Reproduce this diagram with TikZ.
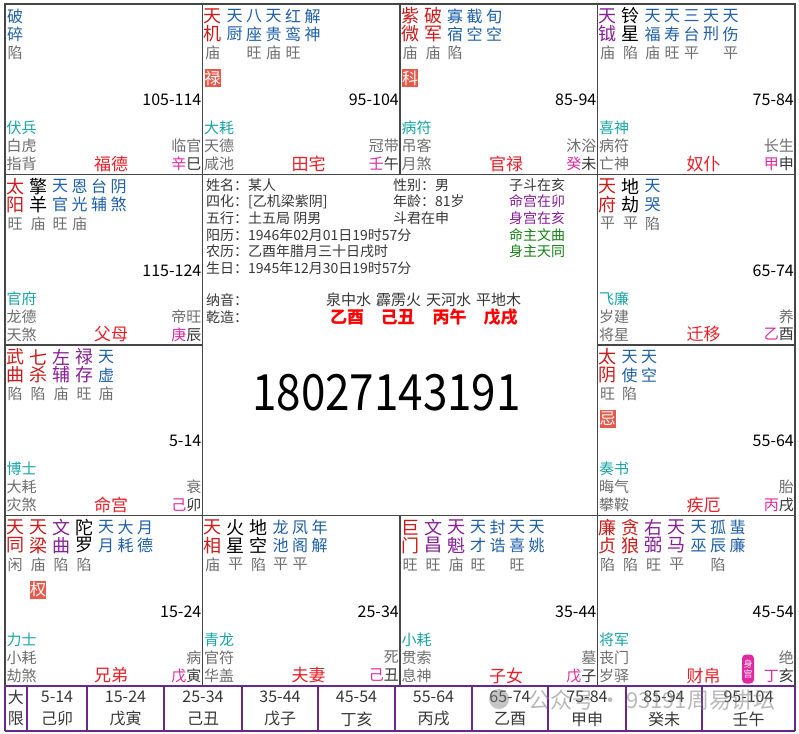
\documentclass[tikz,border=0pt]{standalone}
\usepackage{fontspec}
\usepackage{graphicx}
\setmainfont{Noto Sans CJK SC}
\definecolor{zred}{RGB}{205,25,25}
\definecolor{zblue}{RGB}{30,95,170}
\definecolor{zpurple}{RGB}{135,30,150}
\definecolor{zteal}{RGB}{25,165,165}
\definecolor{zgray}{RGB}{110,110,110}
\definecolor{zdark}{RGB}{55,55,55}
\definecolor{zstem}{RGB}{225,40,160}
\definecolor{zpal}{RGB}{235,30,40}
\definecolor{zhua}{RGB}{230,90,75}
\definecolor{zgreen}{RGB}{20,130,20}
\definecolor{zline}{RGB}{70,70,70}
\definecolor{zband}{RGB}{105,40,140}

\begin{document}
\begin{tikzpicture}[x=1pt,y=-1pt,
    grid/.style={draw=zline,line width=1.1pt},
    band/.style={draw=zband,line width=1.2pt},
    star/.style={inner sep=0pt,font=\fontsize{18}{18}\selectfont},
    mjr/.style={star,text=zred},
    mjp/.style={star,text=zpurple},
    mjk/.style={star,text=black},
    mn/.style={inner sep=0pt,font=\fontsize{16}{16}\selectfont,text=zblue},
    bright/.style={inner sep=0pt,font=\fontsize{15}{15}\selectfont,text=zgray},
    hua/.style={fill=zhua,text=white,inner sep=0pt,minimum width=16pt,minimum height=18pt,font=\fontsize{16}{16}\selectfont},
    god/.style={inner sep=0pt,anchor=west,font=\fontsize{15}{15}\selectfont,text=zteal},
    side/.style={inner sep=0pt,font=\fontsize{15}{15}\selectfont,text=zgray},
    pal/.style={inner sep=0pt,font=\fontsize{17}{17}\selectfont,text=zpal},
    age/.style={inner sep=0pt,anchor=east,font=\fontsize{16}{16}\selectfont,text=black},
    info/.style={inner sep=0pt,anchor=west,font=\fontsize{14}{14}\selectfont,text=zdark},
    limit/.style={inner sep=0pt,font=\fontsize{16}{16}\selectfont,text=zdark}]
\useasboundingbox (0,0) rectangle (799,733);
\fill[white] (0,0) rectangle (799,733);

\draw[grid] (5,4) rectangle (795,686);
\draw[grid] (202.5,4)--(202.5,686);
\draw[grid] (597.5,4)--(597.5,686);
\draw[grid] (400,4)--(400,174.5);
\draw[grid] (400,515.5)--(400,686);
\draw[grid] (5,174.5)--(795,174.5);
\draw[grid] (5,515.5)--(795,515.5);
\draw[grid] (5,345)--(202.5,345);
\draw[grid] (597.5,345)--(795,345);

\begin{scope}[shift={(5,4)}]
    \foreach \s/\x/\a/\b/\r [count=\j] in {mn/10/破/碎/陷}{
        \node[\s] (si-t\j) at (\x,12) {\a};
        \node[\s] (si-b\j) at (\x,30) {\b};
        \node[bright] (si-r\j) at (\x,49) {\r};
    }
\end{scope}
\begin{scope}[shift={(202.5,4)}]
    \foreach \s/\x/\a/\b/\r [count=\j] in {mjr/10/天/机/庙,mn/32/天/厨/{},mn/51.5/八/座/旺,mn/71/天/贵/庙,mn/90.5/红/鸾/旺,mn/110/解/神/{}}{
        \node[\s] (wu-t\j) at (\x,12) {\a};
        \node[\s] (wu-b\j) at (\x,30) {\b};
        \node[bright] (wu-r\j) at (\x,49) {\r};
    }
    \node[hua] (wu-hua) at (10,74) {禄};
\end{scope}
\begin{scope}[shift={(400,4)}]
    \foreach \s/\x/\a/\b/\r [count=\j] in {mjr/10/紫/微/庙,mjr/33/破/军/庙,mn/55/寡/宿/陷,mn/74.5/截/空/{},mn/94/旬/空/{}}{
        \node[\s] (wei-t\j) at (\x,12) {\a};
        \node[\s] (wei-b\j) at (\x,30) {\b};
        \node[bright] (wei-r\j) at (\x,49) {\r};
    }
    \node[hua] (wei-hua) at (10,74) {科};
\end{scope}
\begin{scope}[shift={(597.5,4)}]
    \foreach \s/\x/\a/\b/\r [count=\j] in {mjp/10/天/钺/庙,mjk/33/铃/星/陷,mn/55/天/福/庙,mn/74.5/天/寿/旺,mn/94/三/台/平,mn/113.5/天/刑/{},mn/133/天/伤/平}{
        \node[\s] (shen-t\j) at (\x,12) {\a};
        \node[\s] (shen-b\j) at (\x,30) {\b};
        \node[bright] (shen-r\j) at (\x,49) {\r};
    }
\end{scope}
\begin{scope}[shift={(5,174.5)}]
    \foreach \s/\x/\a/\b/\r [count=\j] in {mjr/10/太/阳/旺,mjk/33/擎/羊/庙,mn/55/天/官/旺,mn/74.5/恩/光/庙,mn/94/台/辅/{},mn/113.5/阴/煞/{}}{
        \node[\s] (chen-t\j) at (\x,12) {\a};
        \node[\s] (chen-b\j) at (\x,30) {\b};
        \node[bright] (chen-r\j) at (\x,49) {\r};
    }
\end{scope}
\begin{scope}[shift={(597.5,174.5)}]
    \foreach \s/\x/\a/\b/\r [count=\j] in {mjr/10/天/府/平,mjk/33/地/劫/平,mn/55/天/哭/陷}{
        \node[\s] (you-t\j) at (\x,12) {\a};
        \node[\s] (you-b\j) at (\x,30) {\b};
        \node[bright] (you-r\j) at (\x,49) {\r};
    }
\end{scope}
\begin{scope}[shift={(5,345)}]
    \foreach \s/\x/\a/\b/\r [count=\j] in {mjr/10/武/曲/陷,mjr/33/七/杀/陷,mjp/56/左/辅/庙,mjp/79/禄/存/旺,mn/101/天/虚/庙}{
        \node[\s] (mao-t\j) at (\x,12) {\a};
        \node[\s] (mao-b\j) at (\x,30) {\b};
        \node[bright] (mao-r\j) at (\x,49) {\r};
    }
\end{scope}
\begin{scope}[shift={(597.5,345)}]
    \foreach \s/\x/\a/\b/\r [count=\j] in {mjr/10/太/阴/旺,mn/32/天/使/陷,mn/51.5/天/空/{}}{
        \node[\s] (xu-t\j) at (\x,12) {\a};
        \node[\s] (xu-b\j) at (\x,30) {\b};
        \node[bright] (xu-r\j) at (\x,49) {\r};
    }
    \node[hua] (xu-hua) at (10,74) {忌};
\end{scope}
\begin{scope}[shift={(5,515.5)}]
    \foreach \s/\x/\a/\b/\r [count=\j] in {mjr/10/天/同/闲,mjr/33/天/梁/庙,mjp/56/文/曲/陷,mjk/79/陀/罗/陷,mn/101/天/月/{},mn/120.5/大/耗/{},mn/140/月/德/{}}{
        \node[\s] (yin-t\j) at (\x,12) {\a};
        \node[\s] (yin-b\j) at (\x,30) {\b};
        \node[bright] (yin-r\j) at (\x,49) {\r};
    }
    \node[hua] (yin-hua) at (33,74) {权};
\end{scope}
\begin{scope}[shift={(202.5,515.5)}]
    \foreach \s/\x/\a/\b/\r [count=\j] in {mjr/10/天/相/庙,mjk/33/火/星/平,mjk/56/地/空/陷,mn/78/龙/池/平,mn/97.5/凤/阁/平,mn/117/年/解/{}}{
        \node[\s] (chou-t\j) at (\x,12) {\a};
        \node[\s] (chou-b\j) at (\x,30) {\b};
        \node[bright] (chou-r\j) at (\x,49) {\r};
    }
\end{scope}
\begin{scope}[shift={(400,515.5)}]
    \foreach \s/\x/\a/\b/\r [count=\j] in {mjr/10/巨/门/旺,mjp/33/文/昌/旺,mjp/56/天/魁/庙,mn/78/天/才/旺,mn/97.5/封/诰/{},mn/117/天/喜/旺,mn/136.5/天/姚/{}}{
        \node[\s] (zi-t\j) at (\x,12) {\a};
        \node[\s] (zi-b\j) at (\x,30) {\b};
        \node[bright] (zi-r\j) at (\x,49) {\r};
    }
\end{scope}
\begin{scope}[shift={(597.5,515.5)}]
    \foreach \s/\x/\a/\b/\r [count=\j] in {mjr/10/廉/贞/陷,mjr/33/贪/狼/陷,mjp/56/右/弼/旺,mjp/79/天/马/平,mn/101/天/巫/{},mn/120.5/孤/辰/陷,mn/140/蜚/廉/{}}{
        \node[\s] (hai-t\j) at (\x,12) {\a};
        \node[\s] (hai-b\j) at (\x,30) {\b};
        \node[bright] (hai-r\j) at (\x,49) {\r};
    }
    \node[fill=zstem,rounded corners=4pt,text=white,inner sep=1pt,minimum width=12pt,minimum height=29pt,align=center,font=\fontsize{9}{10.5}\selectfont] (hai-shen) at (150.5,153.5) {身\\宫};
\end{scope}

\foreach \ox/\oy/\g/\p/\q/\h/\n/\s/\z/\a [count=\i] in {
    5/4/伏兵/白虎/指背/临官/福德/辛/巳/105-114,
    202.5/4/大耗/天德/咸池/冠带/田宅/壬/午/95-104,
    400/4/病符/吊客/月煞/沐浴/官禄/癸/未/85-94,
    597.5/4/喜神/病符/亡神/长生/奴仆/甲/申/75-84,
    5/174.5/官府/龙德/天煞/帝旺/父母/庚/辰/115-124,
    597.5/174.5/飞廉/岁建/将星/养/迁移/乙/酉/65-74,
    5/345/博士/大耗/灾煞/衰/命宫/己/卯/5-14,
    597.5/345/奏书/晦气/攀鞍/胎/疾厄/丙/戌/55-64,
    5/515.5/力士/小耗/劫煞/病/兄弟/戊/寅/15-24,
    202.5/515.5/青龙/官符/华盖/死/夫妻/己/丑/25-34,
    400/515.5/小耗/贯索/息神/墓/子女/戊/子/35-44,
    597.5/515.5/将军/丧门/岁驿/绝/财帛/丁/亥/45-54}{
    \node[age] (age\i) at (\ox+196.5,\oy+96) {\a};
    \node[god] (god\i) at (\ox+1.5,\oy+124) {\g};
    \node[side,anchor=west] (sq\i) at (\ox+1.5,\oy+142) {\p};
    \node[side,anchor=west] (jq\i) at (\ox+1.5,\oy+160) {\q};
    \node[side,anchor=east] (ph\i) at (\ox+196.5,\oy+142) {\h};
    \node[pal] (pal\i) at (\ox+106,\oy+160) {\n};
    \node[side,anchor=east] (gz\i) at (\ox+196.5,\oy+160) {\textcolor{zstem}{\s}\textcolor{zdark}{\z}};
}

\foreach \t [count=\i] in {姓名：某人,四化：[乙机梁紫阴],五行：土五局 阴男,阳历：1946年02月01日19时57分,农历：乙酉年腊月三十日戌时,生日：1945年12月30日19时57分}{
    \node[info] (lf\i) at (206,185+16.6*\i-16.6) {\t};
}
\foreach \t [count=\i] in {性别：男,年龄：81岁,斗君在申}{
    \node[info] (md\i) at (393,185+16.6*\i-16.6) {\t};
}
\foreach \c/\t [count=\i] in {zdark/子斗在亥,zpurple/命宫在卯,zpurple/身宫在亥,zgreen/命主文曲,zgreen/身主天同}{
    \node[info,text=\c] (rt\i) at (509,185+16.6*\i-16.6) {\t};
}
\node[info] (nayin) at (206,300) {纳音：};
\node[info] (qianzao) at (206,317) {乾造：};
\foreach \x/\t [count=\i] in {326/泉中水,376/霹雳火,426/天河水,476/平地木}{
    \node[info,font=\fontsize{15}{15}\selectfont] (ny\i) at (\x,300) {\t};
}
\foreach \x/\t [count=\i] in {347/乙酉,397.5/己丑,449.5/丙午,500.5/戊戌}{
    \node[inner sep=0pt,text=red,font=\fontsize{17}{17}\selectfont\bfseries] (gz-c\i) at (\x,317) {\t};
}
\node[inner sep=0pt,font=\fontsize{50}{50}\selectfont] (phone) at (386.5,393) {\scalebox{0.88}[1]{18027143191}};

\draw[band,line width=2pt] (5,686)--(795,686);
\draw[band,line width=2pt] (5,731)--(795,731);
\foreach \x in {5,27,87,164,242,318,395,472,548,626,702,795}{
    \draw[band] (\x,686)--(\x,731);
}
\node[limit] (da) at (16,697) {大};
\node[limit] (xian) at (16,719) {限};
\foreach \x/\a/\b [count=\i] in {57/5-14/己卯,125.5/15-24/戊寅,203/25-34/己丑,280/35-44/戊子,356.5/45-54/丁亥,433.5/55-64/丙戌,510/65-74/乙酉,587/75-84/甲申,664/85-94/癸未,748.5/95-104/壬午}{
    \node[limit] (dx\i) at (\x,697) {\a};
    \node[limit] (dg\i) at (\x,719) {\b};
}

\fill[gray,opacity=0.45] (499,699) circle (10);
\node[inner sep=0pt,anchor=west,text=gray,opacity=0.55,font=\fontsize{22}{22}\selectfont] (mark) at (528,700) {公众号 · 93191周易讲坛};
\end{tikzpicture}
\end{document}
